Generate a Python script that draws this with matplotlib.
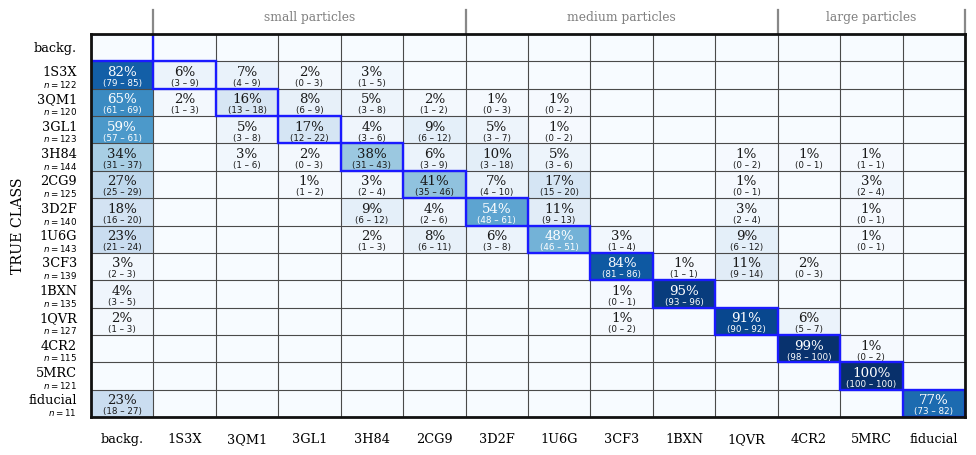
import matplotlib
matplotlib.use('Agg')
import matplotlib.pyplot as plt
import matplotlib.transforms as mtransforms
from matplotlib.patches import Rectangle
import numpy as np

classes = ['backg.', '1S3X', '3QM1', '3GL1', '3H84', '2CG9', '3D2F', '1U6G',
           '3CF3', '1BXN', '1QVR', '4CR2', '5MRC', 'fiducial']
n_samples = [None, 122, 120, 123, 144, 125, 140, 143, 139, 135, 127, 115, 121, 11]

# (true class index, predicted class index, percent, ci low, ci high)
entries = [
    (1, 0, 82, 79, 85), (1, 1, 6, 3, 9), (1, 2, 7, 4, 9), (1, 3, 2, 0, 3), (1, 4, 3, 1, 5),
    (2, 0, 65, 61, 69), (2, 1, 2, 1, 3), (2, 2, 16, 13, 18), (2, 3, 8, 6, 9), (2, 4, 5, 3, 8),
    (2, 5, 2, 1, 2), (2, 6, 1, 0, 3), (2, 7, 1, 0, 2),
    (3, 0, 59, 57, 61), (3, 2, 5, 3, 8), (3, 3, 17, 12, 22), (3, 4, 4, 3, 6), (3, 5, 9, 6, 12),
    (3, 6, 5, 3, 7), (3, 7, 1, 0, 2),
    (4, 0, 34, 31, 37), (4, 2, 3, 1, 6), (4, 3, 2, 0, 3), (4, 4, 38, 31, 43), (4, 5, 6, 3, 9),
    (4, 6, 10, 3, 18), (4, 7, 5, 3, 6), (4, 10, 1, 0, 2), (4, 11, 1, 0, 1), (4, 12, 1, 1, 1),
    (5, 0, 27, 25, 29), (5, 3, 1, 1, 2), (5, 4, 3, 2, 4), (5, 5, 41, 35, 46), (5, 6, 7, 4, 10),
    (5, 7, 17, 15, 20), (5, 10, 1, 0, 1), (5, 12, 3, 2, 4),
    (6, 0, 18, 16, 20), (6, 4, 9, 6, 12), (6, 5, 4, 2, 6), (6, 6, 54, 48, 61), (6, 7, 11, 9, 13),
    (6, 10, 3, 2, 4), (6, 12, 1, 0, 1),
    (7, 0, 23, 21, 24), (7, 4, 2, 1, 3), (7, 5, 8, 6, 11), (7, 6, 6, 3, 8), (7, 7, 48, 46, 51),
    (7, 8, 3, 1, 4), (7, 10, 9, 6, 12), (7, 12, 1, 0, 1),
    (8, 0, 3, 2, 3), (8, 8, 84, 81, 86), (8, 9, 1, 1, 1), (8, 10, 11, 9, 14), (8, 11, 2, 0, 3),
    (9, 0, 4, 3, 5), (9, 8, 1, 0, 1), (9, 9, 95, 93, 96),
    (10, 0, 2, 1, 3), (10, 8, 1, 0, 2), (10, 10, 91, 90, 92), (10, 11, 6, 5, 7),
    (11, 11, 99, 98, 100), (11, 12, 1, 0, 2),
    (12, 12, 100, 100, 100),
    (13, 0, 23, 18, 27), (13, 13, 77, 73, 82),
]

# (label, first column index, end column index)
groups = [('small particles', 1, 6), ('medium particles', 6, 11), ('large particles', 11, 14)]

N = len(classes)
mat = np.zeros((N, N))
for r, c, p, lo, hi in entries:
    mat[r, c] = p / 100.0

fig = plt.figure(figsize=(9.76, 4.56), dpi=100)
ax = fig.add_axes([0.0932, 0.0833, 0.8955, 0.8399])
ax.imshow(mat, cmap='Blues', vmin=0, vmax=1, aspect='auto', interpolation='nearest')

ax.set_xticks(np.arange(N))
ax.set_xticklabels([''] * N)
ax.set_yticks(np.arange(N))
ax.set_yticklabels([''] * N)
ax.set_xticks(np.arange(-0.5, N, 1), minor=True)
ax.set_yticks(np.arange(-0.5, N, 1), minor=True)
ax.grid(which='minor', color='#4a4a4a', lw=0.8)
ax.grid(which='major', visible=False)
ax.tick_params(which='both', length=0)
ax.set_xlim(-0.5, N - 0.5)
ax.set_ylim(N - 0.5, -0.5)

for sp in ax.spines.values():
    sp.set_linewidth(2.0)
    sp.set_color('#111111')
    sp.set_zorder(5)

for i in range(N):
    ax.add_patch(Rectangle((i - 0.5, i - 0.5), 1, 1, fill=False, ec='#1a1aff', lw=1.7, zorder=4))

for r, c, p, lo, hi in entries:
    col = 'white' if p > 45 else '#1a1a1a'
    ax.text(c, r - 0.13, f'{p}%', ha='center', va='center', family='DejaVu Serif',
            fontsize=9.6, color=col, zorder=6)
    ax.text(c, r + 0.27, f'({lo} – {hi})', ha='center', va='center', family='DejaVu Sans',
            fontsize=6.3, color=col, zorder=6)

xlab_tr = mtransforms.blended_transform_factory(ax.transData, ax.transAxes)
for j, name in enumerate(classes):
    ax.text(j, -0.065, name, transform=xlab_tr, ha='center', va='baseline',
            family='DejaVu Serif', fontsize=9.3)

ylab_tr = mtransforms.blended_transform_factory(ax.transAxes, ax.transData)
for i, name in enumerate(classes):
    if n_samples[i] is None:
        ax.text(-0.016, i, name, transform=ylab_tr, ha='right', va='center',
                family='DejaVu Serif', fontsize=9.3)
    else:
        ax.text(-0.016, i - 0.13, name, transform=ylab_tr, ha='right', va='center',
                family='DejaVu Serif', fontsize=9.3)
        ax.text(-0.016, i + 0.3, f'$n = {n_samples[i]}$', transform=ylab_tr, ha='right',
                va='center', fontsize=6.3)

grp_tr = mtransforms.blended_transform_factory(ax.transData, ax.transAxes)
edges = sorted(set([g[1] for g in groups] + [g[2] for g in groups]))
for e in edges:
    ax.plot([e - 0.5, e - 0.5], [1.0, 1.062], transform=grp_tr, color='#888888', lw=1.6,
            clip_on=False, zorder=1)
for label, s, e in groups:
    ax.text((s + e) / 2 - 0.5, 1.045, label, transform=grp_tr, ha='center', va='center',
            family='DejaVu Serif', fontsize=8.8, color='#808080')

fig.text(0.0185, 0.504, 'TRUE CLASS', rotation=90, ha='center', va='center',
         family='DejaVu Serif', fontsize=10.2)

fig.savefig('out.png', dpi=100)
